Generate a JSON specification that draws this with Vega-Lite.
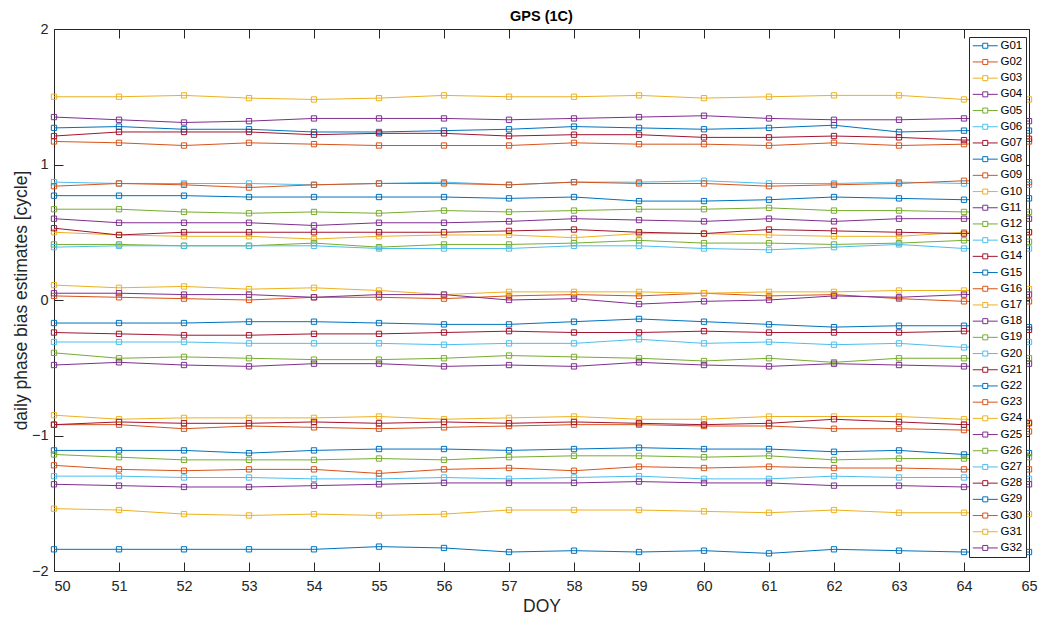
{
  "$schema": "https://vega.github.io/schema/vega-lite/v6.json",
  "width": 975,
  "height": 542,
  "autosize": {"type": "none"},
  "padding": {"left": 54, "top": 29, "right": 25, "bottom": 50},
  "background": "white",
  "config": {
    "font": "Liberation Sans",
    "view": {"stroke": "#262626", "strokeWidth": 1},
    "axis": {
      "domain": false,
      "grid": false,
      "tickColor": "#262626",
      "tickSize": -9,
      "labelColor": "#262626",
      "labelFontSize": 14.5,
      "titleColor": "#262626",
      "titleFontSize": 17.5,
      "titleFontWeight": "normal"
    }
  },
  "title": {
    "text": "GPS (1C)",
    "fontSize": 14.5,
    "fontWeight": "bold",
    "color": "#000000",
    "anchor": "middle",
    "offset": -3.5
  },
  "data": {
    "values": [
      {"s":"G01","d":50,"v":1.27},{"s":"G01","d":51,"v":1.28},{"s":"G01","d":52,"v":1.26},{"s":"G01","d":53,"v":1.26},{"s":"G01","d":54,"v":1.24},{"s":"G01","d":55,"v":1.24},{"s":"G01","d":56,"v":1.25},{"s":"G01","d":57,"v":1.26},{"s":"G01","d":58,"v":1.28},{"s":"G01","d":59,"v":1.27},{"s":"G01","d":60,"v":1.26},{"s":"G01","d":61,"v":1.27},{"s":"G01","d":62,"v":1.29},{"s":"G01","d":63,"v":1.24},{"s":"G01","d":64,"v":1.25},{"s":"G01","d":65,"v":1.25},
      {"s":"G02","d":50,"v":1.17},{"s":"G02","d":51,"v":1.16},{"s":"G02","d":52,"v":1.14},{"s":"G02","d":53,"v":1.16},{"s":"G02","d":54,"v":1.15},{"s":"G02","d":55,"v":1.14},{"s":"G02","d":56,"v":1.14},{"s":"G02","d":57,"v":1.14},{"s":"G02","d":58,"v":1.16},{"s":"G02","d":59,"v":1.15},{"s":"G02","d":60,"v":1.15},{"s":"G02","d":61,"v":1.14},{"s":"G02","d":62,"v":1.16},{"s":"G02","d":63,"v":1.14},{"s":"G02","d":64,"v":1.15},{"s":"G02","d":65,"v":1.17},
      {"s":"G03","d":50,"v":1.50},{"s":"G03","d":51,"v":1.50},{"s":"G03","d":52,"v":1.51},{"s":"G03","d":53,"v":1.49},{"s":"G03","d":54,"v":1.48},{"s":"G03","d":55,"v":1.49},{"s":"G03","d":56,"v":1.51},{"s":"G03","d":57,"v":1.50},{"s":"G03","d":58,"v":1.50},{"s":"G03","d":59,"v":1.51},{"s":"G03","d":60,"v":1.49},{"s":"G03","d":61,"v":1.50},{"s":"G03","d":62,"v":1.51},{"s":"G03","d":63,"v":1.51},{"s":"G03","d":64,"v":1.48},{"s":"G03","d":65,"v":1.48},
      {"s":"G04","d":50,"v":1.35},{"s":"G04","d":51,"v":1.33},{"s":"G04","d":52,"v":1.31},{"s":"G04","d":53,"v":1.32},{"s":"G04","d":54,"v":1.34},{"s":"G04","d":55,"v":1.34},{"s":"G04","d":56,"v":1.34},{"s":"G04","d":57,"v":1.33},{"s":"G04","d":58,"v":1.34},{"s":"G04","d":59,"v":1.35},{"s":"G04","d":60,"v":1.36},{"s":"G04","d":61,"v":1.34},{"s":"G04","d":62,"v":1.33},{"s":"G04","d":63,"v":1.33},{"s":"G04","d":64,"v":1.34},{"s":"G04","d":65,"v":1.32},
      {"s":"G05","d":50,"v":0.67},{"s":"G05","d":51,"v":0.67},{"s":"G05","d":52,"v":0.65},{"s":"G05","d":53,"v":0.64},{"s":"G05","d":54,"v":0.65},{"s":"G05","d":55,"v":0.64},{"s":"G05","d":56,"v":0.66},{"s":"G05","d":57,"v":0.65},{"s":"G05","d":58,"v":0.66},{"s":"G05","d":59,"v":0.67},{"s":"G05","d":60,"v":0.67},{"s":"G05","d":61,"v":0.68},{"s":"G05","d":62,"v":0.66},{"s":"G05","d":63,"v":0.66},{"s":"G05","d":64,"v":0.65},{"s":"G05","d":65,"v":0.65},
      {"s":"G06","d":50,"v":0.87},{"s":"G06","d":51,"v":0.86},{"s":"G06","d":52,"v":0.86},{"s":"G06","d":53,"v":0.86},{"s":"G06","d":54,"v":0.85},{"s":"G06","d":55,"v":0.86},{"s":"G06","d":56,"v":0.87},{"s":"G06","d":57,"v":0.85},{"s":"G06","d":58,"v":0.87},{"s":"G06","d":59,"v":0.87},{"s":"G06","d":60,"v":0.88},{"s":"G06","d":61,"v":0.86},{"s":"G06","d":62,"v":0.86},{"s":"G06","d":63,"v":0.87},{"s":"G06","d":64,"v":0.86},{"s":"G06","d":65,"v":0.85},
      {"s":"G07","d":50,"v":1.21},{"s":"G07","d":51,"v":1.24},{"s":"G07","d":52,"v":1.24},{"s":"G07","d":53,"v":1.24},{"s":"G07","d":54,"v":1.22},{"s":"G07","d":55,"v":1.23},{"s":"G07","d":56,"v":1.23},{"s":"G07","d":57,"v":1.21},{"s":"G07","d":58,"v":1.22},{"s":"G07","d":59,"v":1.22},{"s":"G07","d":60,"v":1.20},{"s":"G07","d":61,"v":1.20},{"s":"G07","d":62,"v":1.21},{"s":"G07","d":63,"v":1.20},{"s":"G07","d":64,"v":1.18},{"s":"G07","d":65,"v":1.19},
      {"s":"G08","d":50,"v":0.77},{"s":"G08","d":51,"v":0.77},{"s":"G08","d":52,"v":0.77},{"s":"G08","d":53,"v":0.76},{"s":"G08","d":54,"v":0.76},{"s":"G08","d":55,"v":0.76},{"s":"G08","d":56,"v":0.76},{"s":"G08","d":57,"v":0.75},{"s":"G08","d":58,"v":0.76},{"s":"G08","d":59,"v":0.73},{"s":"G08","d":60,"v":0.73},{"s":"G08","d":61,"v":0.74},{"s":"G08","d":62,"v":0.76},{"s":"G08","d":63,"v":0.75},{"s":"G08","d":64,"v":0.74},{"s":"G08","d":65,"v":0.75},
      {"s":"G09","d":50,"v":0.84},{"s":"G09","d":51,"v":0.86},{"s":"G09","d":52,"v":0.85},{"s":"G09","d":53,"v":0.83},{"s":"G09","d":54,"v":0.85},{"s":"G09","d":55,"v":0.86},{"s":"G09","d":56,"v":0.86},{"s":"G09","d":57,"v":0.85},{"s":"G09","d":58,"v":0.87},{"s":"G09","d":59,"v":0.86},{"s":"G09","d":60,"v":0.86},{"s":"G09","d":61,"v":0.84},{"s":"G09","d":62,"v":0.85},{"s":"G09","d":63,"v":0.86},{"s":"G09","d":64,"v":0.88},{"s":"G09","d":65,"v":0.87},
      {"s":"G10","d":50,"v":0.50},{"s":"G10","d":51,"v":0.48},{"s":"G10","d":52,"v":0.47},{"s":"G10","d":53,"v":0.47},{"s":"G10","d":54,"v":0.45},{"s":"G10","d":55,"v":0.47},{"s":"G10","d":56,"v":0.48},{"s":"G10","d":57,"v":0.48},{"s":"G10","d":58,"v":0.46},{"s":"G10","d":59,"v":0.49},{"s":"G10","d":60,"v":0.49},{"s":"G10","d":61,"v":0.48},{"s":"G10","d":62,"v":0.47},{"s":"G10","d":63,"v":0.47},{"s":"G10","d":64,"v":0.50},{"s":"G10","d":65,"v":0.50},
      {"s":"G11","d":50,"v":0.60},{"s":"G11","d":51,"v":0.57},{"s":"G11","d":52,"v":0.57},{"s":"G11","d":53,"v":0.57},{"s":"G11","d":54,"v":0.55},{"s":"G11","d":55,"v":0.57},{"s":"G11","d":56,"v":0.57},{"s":"G11","d":57,"v":0.58},{"s":"G11","d":58,"v":0.60},{"s":"G11","d":59,"v":0.59},{"s":"G11","d":60,"v":0.58},{"s":"G11","d":61,"v":0.60},{"s":"G11","d":62,"v":0.58},{"s":"G11","d":63,"v":0.60},{"s":"G11","d":64,"v":0.60},{"s":"G11","d":65,"v":0.60},
      {"s":"G12","d":50,"v":0.41},{"s":"G12","d":51,"v":0.41},{"s":"G12","d":52,"v":0.40},{"s":"G12","d":53,"v":0.40},{"s":"G12","d":54,"v":0.42},{"s":"G12","d":55,"v":0.39},{"s":"G12","d":56,"v":0.41},{"s":"G12","d":57,"v":0.41},{"s":"G12","d":58,"v":0.42},{"s":"G12","d":59,"v":0.44},{"s":"G12","d":60,"v":0.42},{"s":"G12","d":61,"v":0.42},{"s":"G12","d":62,"v":0.41},{"s":"G12","d":63,"v":0.42},{"s":"G12","d":64,"v":0.44},{"s":"G12","d":65,"v":0.43},
      {"s":"G13","d":50,"v":0.39},{"s":"G13","d":51,"v":0.40},{"s":"G13","d":52,"v":0.40},{"s":"G13","d":53,"v":0.40},{"s":"G13","d":54,"v":0.40},{"s":"G13","d":55,"v":0.38},{"s":"G13","d":56,"v":0.38},{"s":"G13","d":57,"v":0.38},{"s":"G13","d":58,"v":0.40},{"s":"G13","d":59,"v":0.40},{"s":"G13","d":60,"v":0.38},{"s":"G13","d":61,"v":0.37},{"s":"G13","d":62,"v":0.39},{"s":"G13","d":63,"v":0.41},{"s":"G13","d":64,"v":0.38},{"s":"G13","d":65,"v":0.38},
      {"s":"G14","d":50,"v":0.53},{"s":"G14","d":51,"v":0.48},{"s":"G14","d":52,"v":0.50},{"s":"G14","d":53,"v":0.50},{"s":"G14","d":54,"v":0.50},{"s":"G14","d":55,"v":0.50},{"s":"G14","d":56,"v":0.50},{"s":"G14","d":57,"v":0.51},{"s":"G14","d":58,"v":0.52},{"s":"G14","d":59,"v":0.50},{"s":"G14","d":60,"v":0.49},{"s":"G14","d":61,"v":0.52},{"s":"G14","d":62,"v":0.51},{"s":"G14","d":63,"v":0.50},{"s":"G14","d":64,"v":0.49},{"s":"G14","d":65,"v":0.50},
      {"s":"G15","d":50,"v":-0.17},{"s":"G15","d":51,"v":-0.17},{"s":"G15","d":52,"v":-0.17},{"s":"G15","d":53,"v":-0.16},{"s":"G15","d":54,"v":-0.16},{"s":"G15","d":55,"v":-0.17},{"s":"G15","d":56,"v":-0.18},{"s":"G15","d":57,"v":-0.18},{"s":"G15","d":58,"v":-0.16},{"s":"G15","d":59,"v":-0.14},{"s":"G15","d":60,"v":-0.16},{"s":"G15","d":61,"v":-0.18},{"s":"G15","d":62,"v":-0.20},{"s":"G15","d":63,"v":-0.19},{"s":"G15","d":64,"v":-0.19},{"s":"G15","d":65,"v":-0.20},
      {"s":"G16","d":50,"v":0.03},{"s":"G16","d":51,"v":0.02},{"s":"G16","d":52,"v":0.01},{"s":"G16","d":53,"v":0.00},{"s":"G16","d":54,"v":0.02},{"s":"G16","d":55,"v":0.02},{"s":"G16","d":56,"v":0.01},{"s":"G16","d":57,"v":0.03},{"s":"G16","d":58,"v":0.04},{"s":"G16","d":59,"v":0.03},{"s":"G16","d":60,"v":0.05},{"s":"G16","d":61,"v":0.03},{"s":"G16","d":62,"v":0.04},{"s":"G16","d":63,"v":0.01},{"s":"G16","d":64,"v":-0.01},{"s":"G16","d":65,"v":-0.01},
      {"s":"G17","d":50,"v":0.11},{"s":"G17","d":51,"v":0.09},{"s":"G17","d":52,"v":0.10},{"s":"G17","d":53,"v":0.08},{"s":"G17","d":54,"v":0.09},{"s":"G17","d":55,"v":0.07},{"s":"G17","d":56,"v":0.04},{"s":"G17","d":57,"v":0.06},{"s":"G17","d":58,"v":0.06},{"s":"G17","d":59,"v":0.06},{"s":"G17","d":60,"v":0.05},{"s":"G17","d":61,"v":0.06},{"s":"G17","d":62,"v":0.06},{"s":"G17","d":63,"v":0.07},{"s":"G17","d":64,"v":0.07},{"s":"G17","d":65,"v":0.08},
      {"s":"G18","d":50,"v":0.05},{"s":"G18","d":51,"v":0.05},{"s":"G18","d":52,"v":0.04},{"s":"G18","d":53,"v":0.04},{"s":"G18","d":54,"v":0.02},{"s":"G18","d":55,"v":0.04},{"s":"G18","d":56,"v":0.04},{"s":"G18","d":57,"v":0.00},{"s":"G18","d":58,"v":0.01},{"s":"G18","d":59,"v":-0.03},{"s":"G18","d":60,"v":-0.01},{"s":"G18","d":61,"v":0.00},{"s":"G18","d":62,"v":0.03},{"s":"G18","d":63,"v":0.02},{"s":"G18","d":64,"v":0.04},{"s":"G18","d":65,"v":0.04},
      {"s":"G19","d":50,"v":-0.39},{"s":"G19","d":51,"v":-0.43},{"s":"G19","d":52,"v":-0.42},{"s":"G19","d":53,"v":-0.43},{"s":"G19","d":54,"v":-0.44},{"s":"G19","d":55,"v":-0.44},{"s":"G19","d":56,"v":-0.43},{"s":"G19","d":57,"v":-0.41},{"s":"G19","d":58,"v":-0.42},{"s":"G19","d":59,"v":-0.43},{"s":"G19","d":60,"v":-0.45},{"s":"G19","d":61,"v":-0.43},{"s":"G19","d":62,"v":-0.46},{"s":"G19","d":63,"v":-0.43},{"s":"G19","d":64,"v":-0.43},{"s":"G19","d":65,"v":-0.43},
      {"s":"G20","d":50,"v":-0.31},{"s":"G20","d":51,"v":-0.31},{"s":"G20","d":52,"v":-0.31},{"s":"G20","d":53,"v":-0.32},{"s":"G20","d":54,"v":-0.32},{"s":"G20","d":55,"v":-0.32},{"s":"G20","d":56,"v":-0.33},{"s":"G20","d":57,"v":-0.32},{"s":"G20","d":58,"v":-0.32},{"s":"G20","d":59,"v":-0.29},{"s":"G20","d":60,"v":-0.32},{"s":"G20","d":61,"v":-0.31},{"s":"G20","d":62,"v":-0.33},{"s":"G20","d":63,"v":-0.32},{"s":"G20","d":64,"v":-0.35},{"s":"G20","d":65,"v":-0.31},
      {"s":"G21","d":50,"v":-0.24},{"s":"G21","d":51,"v":-0.25},{"s":"G21","d":52,"v":-0.26},{"s":"G21","d":53,"v":-0.26},{"s":"G21","d":54,"v":-0.25},{"s":"G21","d":55,"v":-0.25},{"s":"G21","d":56,"v":-0.24},{"s":"G21","d":57,"v":-0.23},{"s":"G21","d":58,"v":-0.24},{"s":"G21","d":59,"v":-0.24},{"s":"G21","d":60,"v":-0.23},{"s":"G21","d":61,"v":-0.24},{"s":"G21","d":62,"v":-0.24},{"s":"G21","d":63,"v":-0.24},{"s":"G21","d":64,"v":-0.23},{"s":"G21","d":65,"v":-0.22},
      {"s":"G22","d":50,"v":-1.11},{"s":"G22","d":51,"v":-1.11},{"s":"G22","d":52,"v":-1.11},{"s":"G22","d":53,"v":-1.13},{"s":"G22","d":54,"v":-1.11},{"s":"G22","d":55,"v":-1.10},{"s":"G22","d":56,"v":-1.10},{"s":"G22","d":57,"v":-1.11},{"s":"G22","d":58,"v":-1.10},{"s":"G22","d":59,"v":-1.09},{"s":"G22","d":60,"v":-1.10},{"s":"G22","d":61,"v":-1.10},{"s":"G22","d":62,"v":-1.12},{"s":"G22","d":63,"v":-1.11},{"s":"G22","d":64,"v":-1.14},{"s":"G22","d":65,"v":-1.13},
      {"s":"G23","d":50,"v":-0.92},{"s":"G23","d":51,"v":-0.92},{"s":"G23","d":52,"v":-0.95},{"s":"G23","d":53,"v":-0.93},{"s":"G23","d":54,"v":-0.94},{"s":"G23","d":55,"v":-0.95},{"s":"G23","d":56,"v":-0.94},{"s":"G23","d":57,"v":-0.93},{"s":"G23","d":58,"v":-0.92},{"s":"G23","d":59,"v":-0.92},{"s":"G23","d":60,"v":-0.93},{"s":"G23","d":61,"v":-0.93},{"s":"G23","d":62,"v":-0.95},{"s":"G23","d":63,"v":-0.95},{"s":"G23","d":64,"v":-0.96},{"s":"G23","d":65,"v":-0.97},
      {"s":"G24","d":50,"v":-0.85},{"s":"G24","d":51,"v":-0.88},{"s":"G24","d":52,"v":-0.87},{"s":"G24","d":53,"v":-0.87},{"s":"G24","d":54,"v":-0.87},{"s":"G24","d":55,"v":-0.86},{"s":"G24","d":56,"v":-0.88},{"s":"G24","d":57,"v":-0.87},{"s":"G24","d":58,"v":-0.86},{"s":"G24","d":59,"v":-0.88},{"s":"G24","d":60,"v":-0.88},{"s":"G24","d":61,"v":-0.86},{"s":"G24","d":62,"v":-0.86},{"s":"G24","d":63,"v":-0.86},{"s":"G24","d":64,"v":-0.88},{"s":"G24","d":65,"v":-0.90},
      {"s":"G25","d":50,"v":-0.48},{"s":"G25","d":51,"v":-0.46},{"s":"G25","d":52,"v":-0.48},{"s":"G25","d":53,"v":-0.49},{"s":"G25","d":54,"v":-0.47},{"s":"G25","d":55,"v":-0.47},{"s":"G25","d":56,"v":-0.49},{"s":"G25","d":57,"v":-0.48},{"s":"G25","d":58,"v":-0.49},{"s":"G25","d":59,"v":-0.46},{"s":"G25","d":60,"v":-0.48},{"s":"G25","d":61,"v":-0.49},{"s":"G25","d":62,"v":-0.47},{"s":"G25","d":63,"v":-0.48},{"s":"G25","d":64,"v":-0.49},{"s":"G25","d":65,"v":-0.47},
      {"s":"G26","d":50,"v":-1.14},{"s":"G26","d":51,"v":-1.16},{"s":"G26","d":52,"v":-1.18},{"s":"G26","d":53,"v":-1.18},{"s":"G26","d":54,"v":-1.18},{"s":"G26","d":55,"v":-1.17},{"s":"G26","d":56,"v":-1.18},{"s":"G26","d":57,"v":-1.16},{"s":"G26","d":58,"v":-1.15},{"s":"G26","d":59,"v":-1.15},{"s":"G26","d":60,"v":-1.16},{"s":"G26","d":61,"v":-1.15},{"s":"G26","d":62,"v":-1.18},{"s":"G26","d":63,"v":-1.17},{"s":"G26","d":64,"v":-1.17},{"s":"G26","d":65,"v":-1.16},
      {"s":"G27","d":50,"v":-1.30},{"s":"G27","d":51,"v":-1.30},{"s":"G27","d":52,"v":-1.31},{"s":"G27","d":53,"v":-1.31},{"s":"G27","d":54,"v":-1.32},{"s":"G27","d":55,"v":-1.32},{"s":"G27","d":56,"v":-1.31},{"s":"G27","d":57,"v":-1.32},{"s":"G27","d":58,"v":-1.31},{"s":"G27","d":59,"v":-1.30},{"s":"G27","d":60,"v":-1.32},{"s":"G27","d":61,"v":-1.32},{"s":"G27","d":62,"v":-1.30},{"s":"G27","d":63,"v":-1.31},{"s":"G27","d":64,"v":-1.31},{"s":"G27","d":65,"v":-1.32},
      {"s":"G28","d":50,"v":-0.92},{"s":"G28","d":51,"v":-0.90},{"s":"G28","d":52,"v":-0.91},{"s":"G28","d":53,"v":-0.91},{"s":"G28","d":54,"v":-0.90},{"s":"G28","d":55,"v":-0.91},{"s":"G28","d":56,"v":-0.90},{"s":"G28","d":57,"v":-0.91},{"s":"G28","d":58,"v":-0.90},{"s":"G28","d":59,"v":-0.91},{"s":"G28","d":60,"v":-0.92},{"s":"G28","d":61,"v":-0.91},{"s":"G28","d":62,"v":-0.88},{"s":"G28","d":63,"v":-0.90},{"s":"G28","d":64,"v":-0.92},{"s":"G28","d":65,"v":-0.91},
      {"s":"G29","d":50,"v":-1.84},{"s":"G29","d":51,"v":-1.84},{"s":"G29","d":52,"v":-1.84},{"s":"G29","d":53,"v":-1.84},{"s":"G29","d":54,"v":-1.84},{"s":"G29","d":55,"v":-1.82},{"s":"G29","d":56,"v":-1.83},{"s":"G29","d":57,"v":-1.86},{"s":"G29","d":58,"v":-1.85},{"s":"G29","d":59,"v":-1.86},{"s":"G29","d":60,"v":-1.85},{"s":"G29","d":61,"v":-1.87},{"s":"G29","d":62,"v":-1.84},{"s":"G29","d":63,"v":-1.85},{"s":"G29","d":64,"v":-1.86},{"s":"G29","d":65,"v":-1.86},
      {"s":"G30","d":50,"v":-1.22},{"s":"G30","d":51,"v":-1.25},{"s":"G30","d":52,"v":-1.26},{"s":"G30","d":53,"v":-1.25},{"s":"G30","d":54,"v":-1.25},{"s":"G30","d":55,"v":-1.28},{"s":"G30","d":56,"v":-1.25},{"s":"G30","d":57,"v":-1.24},{"s":"G30","d":58,"v":-1.26},{"s":"G30","d":59,"v":-1.23},{"s":"G30","d":60,"v":-1.24},{"s":"G30","d":61,"v":-1.23},{"s":"G30","d":62,"v":-1.24},{"s":"G30","d":63,"v":-1.24},{"s":"G30","d":64,"v":-1.25},{"s":"G30","d":65,"v":-1.25},
      {"s":"G31","d":50,"v":-1.54},{"s":"G31","d":51,"v":-1.55},{"s":"G31","d":52,"v":-1.58},{"s":"G31","d":53,"v":-1.59},{"s":"G31","d":54,"v":-1.58},{"s":"G31","d":55,"v":-1.59},{"s":"G31","d":56,"v":-1.58},{"s":"G31","d":57,"v":-1.55},{"s":"G31","d":58,"v":-1.55},{"s":"G31","d":59,"v":-1.55},{"s":"G31","d":60,"v":-1.56},{"s":"G31","d":61,"v":-1.57},{"s":"G31","d":62,"v":-1.55},{"s":"G31","d":63,"v":-1.57},{"s":"G31","d":64,"v":-1.57},{"s":"G31","d":65,"v":-1.58},
      {"s":"G32","d":50,"v":-1.36},{"s":"G32","d":51,"v":-1.37},{"s":"G32","d":52,"v":-1.38},{"s":"G32","d":53,"v":-1.38},{"s":"G32","d":54,"v":-1.37},{"s":"G32","d":55,"v":-1.36},{"s":"G32","d":56,"v":-1.35},{"s":"G32","d":57,"v":-1.35},{"s":"G32","d":58,"v":-1.35},{"s":"G32","d":59,"v":-1.34},{"s":"G32","d":60,"v":-1.35},{"s":"G32","d":61,"v":-1.35},{"s":"G32","d":62,"v":-1.37},{"s":"G32","d":63,"v":-1.37},{"s":"G32","d":64,"v":-1.38},{"s":"G32","d":65,"v":-1.36}
    ]
  },
  "layer": [
    {
      "mark": {
        "type": "line",
        "strokeWidth": 1,
        "point": {"shape": "square", "filled": false, "size": 28, "strokeWidth": 1}
      },
      "encoding": {
        "x": {
          "field": "d",
          "type": "quantitative",
          "title": "DOY",
          "scale": {"domain": [50, 65], "nice": false, "zero": false},
          "axis": {
            "orient": "bottom",
            "values": [50,51,52,53,54,55,56,57,58,59,60,61,62,63,64,65],
            "labelFlush": false,
            "labelAlign": {"condition": {"test": "datum.value == 50", "value": "left"}, "value": "center"},
            "labelPadding": 17,
            "titlePadding": 5
          }
        },
        "y": {
          "field": "v",
          "type": "quantitative",
          "title": "daily phase bias estimates [cycle]",
          "scale": {"domain": [-2, 2], "nice": false, "zero": false},
          "axis": {"orient": "left", "values": [-2,-1,0,1,2], "labelPadding": 15, "titlePadding": 1}
        },
        "color": {
          "field": "s",
          "type": "nominal",
          "scale": {
            "domain": ["G01","G02","G03","G04","G05","G06","G07","G08","G09","G10","G11","G12","G13","G14","G15","G16","G17","G18","G19","G20","G21","G22","G23","G24","G25","G26","G27","G28","G29","G30","G31","G32"],
            "range": ["#0072BD","#D95319","#EDB120","#7E2F8E","#77AC30","#4DBEEE","#A2142F","#0072BD","#D95319","#EDB120","#7E2F8E","#77AC30","#4DBEEE","#A2142F","#0072BD","#D95319","#EDB120","#7E2F8E","#77AC30","#4DBEEE","#A2142F","#0072BD","#D95319","#EDB120","#7E2F8E","#77AC30","#4DBEEE","#A2142F","#0072BD","#D95319","#EDB120","#7E2F8E"]
          },
          "legend": {
            "title": null,
            "orient": "none",
            "legendX": 915,
            "legendY": 8,
            "symbolLimit": 40,
            "symbolType": "M-1,0H1M2,0H4M1,-0.5H2V0.5H1Z",
            "symbolSize": 100,
            "symbolStrokeWidth": 1,
            "symbolFillColor": "transparent",
            "labelFontSize": 11.5,
            "labelColor": "#000000",
            "labelOffset": 17,
            "rowPadding": 3.2,
            "padding": 3,
            "strokeColor": "#262626",
            "fillColor": "white"
          }
        }
      }
    },
    {
      "mark": {"type": "point", "opacity": 0},
      "encoding": {
        "x": {"field": "d", "type": "quantitative", "axis": {"orient": "top", "values": [50,51,52,53,54,55,56,57,58,59,60,61,62,63,64,65], "labels": false, "title": null, "minExtent": 0, "maxExtent": 0}},
        "y": {"field": "v", "type": "quantitative", "axis": {"orient": "right", "values": [-2,-1,0,1,2], "labels": false, "title": null, "minExtent": 0, "maxExtent": 0}}
      }
    }
  ],
  "resolve": {"axis": {"x": "independent", "y": "independent"}}
}
